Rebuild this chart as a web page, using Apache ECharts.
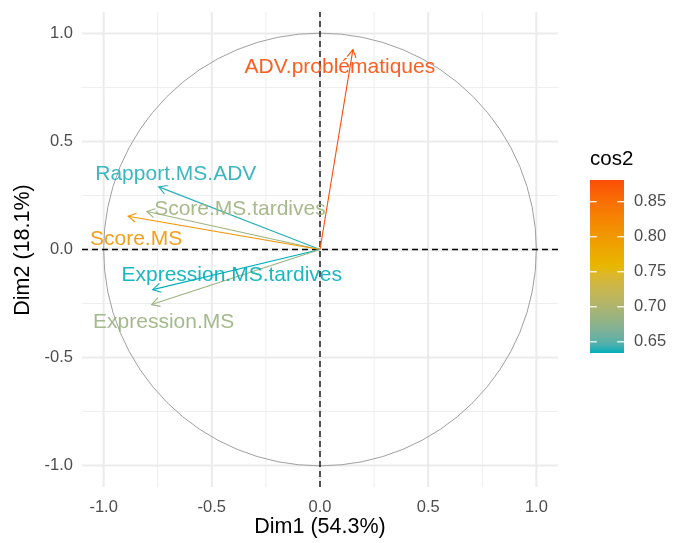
<!DOCTYPE html>
<html>
<head>
<meta charset="utf-8">
<script src="https://cdn.jsdelivr.net/npm/echarts@6/dist/echarts.min.js"></script>
<style>html,body{margin:0;padding:0;background:#fff}#c{width:673px;height:543px}</style>
</head>
<body>
<div id="c"></div>
<script>
// ---- data ----
const variables = ["ADV.problématiques","Rapport.MS.ADV","Score.MS.tardives","Score.MS","Expression.MS.tardives","Expression.MS"];
const dim1 = [0.152,-0.745,-0.800,-0.887,-0.773,-0.778];
const dim2 = [0.926,0.290,0.176,0.154,-0.186,-0.255];
const cos2 = [0.881,0.637,0.688,0.805,0.634,0.685];
const axisBreaks = [-1.0,-0.5,0.0,0.5,1.0];
const minorBreaks = [-0.75,-0.25,0.25,0.75];
const legendBreaks = [0.65,0.70,0.75,0.80,0.85];
const xTitle = "Dim1 (54.3%)";
const yTitle = "Dim2 (18.1%)";
const legendTitle = "cos2";

// ---- styles ----
const FONT = '"Liberation Sans", Arial, sans-serif';
const gradientCols = ["#00AFBB","#E7B800","#FC4E07"];
// label offsets (px) relative to arrow tip, mimicking repelled labels
const labelOffsets = [[-13,18],[17,-13],[93,-2],[8,23],[79,-14],[12,18]];

// Lab interpolation (like ggplot's gradientn)
function hex2rgb(h){return [1,3,5].map(i=>parseInt(h.substr(i,2),16));}
function lin(c){c/=255;return c<=0.04045?c/12.92:Math.pow((c+0.055)/1.055,2.4);}
function delin(c){c=c<=0.0031308?12.92*c:1.055*Math.pow(c,1/2.4)-0.055;return Math.max(0,Math.min(255,Math.round(c*255)));}
function rgb2lab(rgb){
  const [r,g,b]=rgb.map(lin);
  let X=(0.4124*r+0.3576*g+0.1805*b)/0.95047,Y=(0.2126*r+0.7152*g+0.0722*b),Z=(0.0193*r+0.1192*g+0.9505*b)/1.08883;
  const f=t=>t>0.008856?Math.cbrt(t):7.787*t+16/116;
  return [116*f(Y)-16,500*(f(X)-f(Y)),200*(f(Y)-f(Z))];
}
function lab2rgb(lab){
  const fy=(lab[0]+16)/116,fx=fy+lab[1]/500,fz=fy-lab[2]/200;
  const fi=t=>t*t*t>0.008856?t*t*t:(t-16/116)/7.787;
  const X=fi(fx)*0.95047,Y=fi(fy),Z=fi(fz)*1.08883;
  const r=3.2406*X-1.5372*Y-0.4986*Z,g=-0.9689*X+1.8758*Y+0.0415*Z,b=0.0557*X-0.2040*Y+1.0570*Z;
  return [delin(r),delin(g),delin(b)];
}
const labs = gradientCols.map(c=>rgb2lab(hex2rgb(c)));
function colorAt(t){
  t=Math.max(0,Math.min(1,t));
  const seg=t*(labs.length-1);let i=Math.min(Math.floor(seg),labs.length-2);const f=seg-i;
  const l=labs[i].map((v,k)=>v+(labs[i+1][k]-v)*f);
  const c=lab2rgb(l);return 'rgb('+c.join(',')+')';
}
const cmin=Math.min(...cos2), cmax=Math.max(...cos2);
const colorOf=v=>colorAt((v-cmin)/(cmax-cmin));

const LIM=1.1;
const chart = echarts.init(document.getElementById('c'), null, {renderer:'canvas'});

const arrowData = variables.map((n,i)=>[dim1[i],dim2[i],i]);

const option = {
  animation:false,
  backgroundColor:'#fff',
  grid:[
    {left:82,top:12,width:476,height:475},
    {left:590,top:180,width:34,height:173}
  ],
  xAxis:[
    {type:'value',gridIndex:0,min:-LIM,max:LIM,
     axisLine:{show:false},splitLine:{show:false},
     axisTick:{show:true,customValues:axisBreaks,length:5,lineStyle:{color:'#333',width:1}},
     axisLabel:{customValues:axisBreaks,formatter:v=>v.toFixed(1),fontFamily:FONT,fontSize:16.5,color:'#4D4D4D',margin:12}},
    {type:'value',gridIndex:1,min:0,max:1,show:false}
  ],
  yAxis:[
    {type:'value',gridIndex:0,min:-LIM,max:LIM,
     axisLine:{show:false},splitLine:{show:false},
     axisTick:{show:true,customValues:axisBreaks,length:5,lineStyle:{color:'#333',width:1}},
     axisLabel:{customValues:axisBreaks,formatter:v=>v.toFixed(1),fontFamily:FONT,fontSize:16.5,color:'#4D4D4D',margin:9}},
    {type:'value',gridIndex:1,min:cmin,max:cmax,position:'right',
     axisLine:{show:false},splitLine:{show:false},axisTick:{show:false},
     axisLabel:{customValues:legendBreaks,formatter:v=>v.toFixed(2),fontFamily:FONT,fontSize:16.5,color:'#4D4D4D',margin:10}}
  ],
  graphic:[
    {type:'text',left:590,top:149,style:{text:legendTitle,font:'20.5px '+FONT,fill:'#000'}},
    {type:'text',x:320,y:527,style:{text:xTitle,font:'21.5px '+FONT,fill:'#000',align:'center',verticalAlign:'middle'}},
    {type:'text',x:23,y:250,rotation:Math.PI/2,style:{text:yTitle,font:'21.5px '+FONT,fill:'#000',align:'center',verticalAlign:'middle'}}
  ],
  series:[
    // minor grid
    {type:'custom',xAxisIndex:0,yAxisIndex:0,silent:true,z:1,data:minorBreaks.map(v=>[v]),
     renderItem:(p,api)=>{const v=api.value(0);
       const a=api.coord([v,-LIM]),b=api.coord([v,LIM]),c=api.coord([-LIM,v]),d=api.coord([LIM,v]);
       return {type:'group',children:[
         {type:'line',shape:{x1:a[0],y1:a[1],x2:b[0],y2:b[1]},style:{stroke:'#EEEEEE',lineWidth:1}},
         {type:'line',shape:{x1:c[0],y1:c[1],x2:d[0],y2:d[1]},style:{stroke:'#EEEEEE',lineWidth:1}}]};}},
    // major grid
    {type:'custom',xAxisIndex:0,yAxisIndex:0,silent:true,z:2,data:axisBreaks.map(v=>[v]),
     renderItem:(p,api)=>{const v=api.value(0);
       const a=api.coord([v,-LIM]),b=api.coord([v,LIM]),c=api.coord([-LIM,v]),d=api.coord([LIM,v]);
       return {type:'group',children:[
         {type:'line',shape:{x1:a[0],y1:a[1],x2:b[0],y2:b[1]},style:{stroke:'#EBEBEB',lineWidth:2}},
         {type:'line',shape:{x1:c[0],y1:c[1],x2:d[0],y2:d[1]},style:{stroke:'#EBEBEB',lineWidth:2}}]};}},
    // unit circle + dashed zero lines
    {type:'custom',xAxisIndex:0,yAxisIndex:0,silent:true,z:3,data:[[0,0,1]],
     renderItem:(p,api)=>{const o=api.coord([api.value(0),api.value(1)]);const e=api.coord([api.value(2),0]);const r=e[0]-o[0];
       const a=api.coord([0,-LIM]),b=api.coord([0,LIM]),c=api.coord([-LIM,0]),d=api.coord([LIM,0]);
       return {type:'group',children:[
         {type:'circle',shape:{cx:o[0],cy:o[1],r:r},style:{fill:'none',stroke:'#A0A0A0',lineWidth:1}},
         {type:'line',shape:{x1:a[0],y1:a[1],x2:b[0],y2:b[1]},style:{stroke:'#000',lineWidth:1.3,lineDash:[6,4]}},
         {type:'line',shape:{x1:c[0],y1:c[1],x2:d[0],y2:d[1]},style:{stroke:'#000',lineWidth:1.3,lineDash:[6,4]}}]};}},
    // arrows + labels
    {type:'custom',xAxisIndex:0,yAxisIndex:0,silent:true,z:5,data:arrowData,
     renderItem:(p,api)=>{
       const i=api.value(2);const o=api.coord([0,0]);const t=api.coord([api.value(0),api.value(1)]);
       const col=colorOf(cos2[i]);const ang=Math.atan2(t[1]-o[1],t[0]-o[0]);const L=9,A=Math.PI/6;
       const h1=[t[0]-L*Math.cos(ang-A),t[1]-L*Math.sin(ang-A)],h2=[t[0]-L*Math.cos(ang+A),t[1]-L*Math.sin(ang+A)];
       const off=labelOffsets[i];
       return {type:'group',children:[
         {type:'line',shape:{x1:o[0],y1:o[1],x2:t[0],y2:t[1]},style:{stroke:col,lineWidth:1.1}},
         {type:'polyline',shape:{points:[h1,t,h2]},style:{stroke:col,lineWidth:1.1,fill:'none'}},
         {type:'text',x:t[0]+off[0],y:t[1]+off[1],z2:10,style:{text:variables[i],font:'21px '+FONT,fill:col,opacity:0.9,align:'center',verticalAlign:'middle'}}]};}},
    // colorbar
    {type:'custom',xAxisIndex:1,yAxisIndex:1,silent:true,z:5,data:[[0,cmin,1,cmax]],
     renderItem:(p,api)=>{
       const a=api.coord([api.value(0),api.value(3)]),b=api.coord([api.value(2),api.value(1)]);
       const stops=[];for(let k=0;k<=20;k++){stops.push({offset:k/20,color:colorAt(1-k/20)});}
       const kids=[{type:'rect',shape:{x:a[0],y:a[1],width:b[0]-a[0],height:b[1]-a[1]},
         style:{fill:new echarts.graphic.LinearGradient(0,0,0,1,stops)}}];
       const w=(b[0]-a[0])/5;
       legendBreaks.forEach(v=>{const y=api.coord([0,v])[1];
         kids.push({type:'line',shape:{x1:a[0],y1:y,x2:a[0]+w,y2:y},style:{stroke:'#fff',lineWidth:1.2}});
         kids.push({type:'line',shape:{x1:b[0]-w,y1:y,x2:b[0],y2:y},style:{stroke:'#fff',lineWidth:1.2}});});
       return {type:'group',children:kids};}}
  ]
};
chart.setOption(option);
</script>
</body>
</html>
